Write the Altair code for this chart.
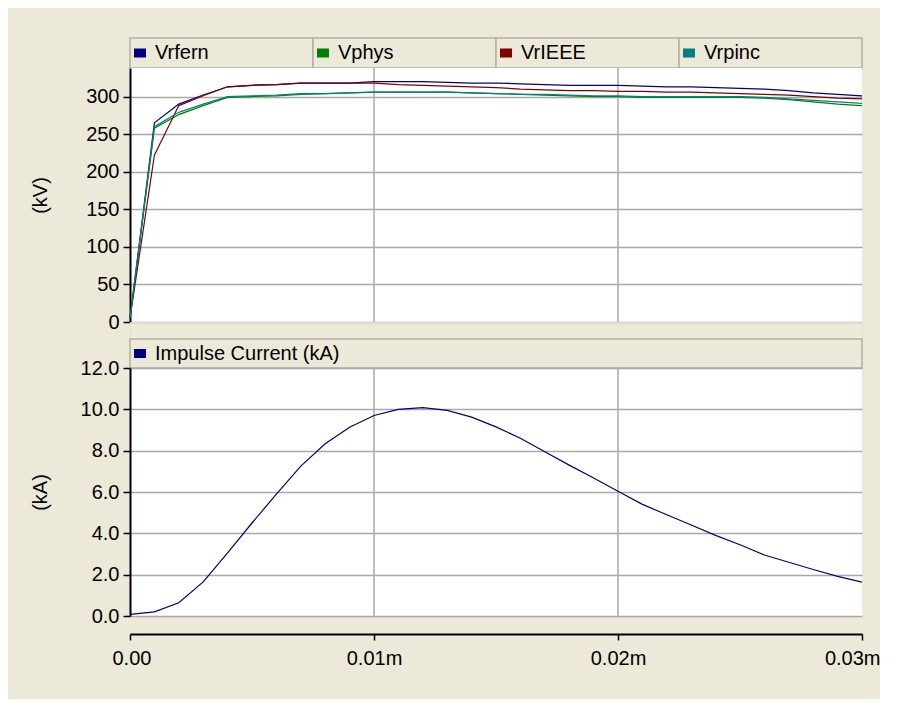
import altair as alt
import pandas as pd

# ---------------- data ----------------
time_ms = [0.000, 0.001, 0.002, 0.003, 0.004, 0.005, 0.006, 0.007, 0.008, 0.009,
           0.010, 0.011, 0.012, 0.013, 0.014, 0.015, 0.016, 0.017, 0.018, 0.019,
           0.020, 0.021, 0.022, 0.023, 0.024, 0.025, 0.026, 0.027, 0.028, 0.029,
           0.030]

vrfern = [5, 265, 290, 302, 313, 315, 316, 318, 318, 318,
          320, 320, 320, 319, 318, 318, 317, 316, 315, 315,
          315, 314, 313, 313, 312, 311, 310, 308, 305, 303, 301]
vphys = [5, 258, 276, 288, 299, 300, 301, 303, 304, 305,
         306, 306, 306, 306, 305, 304, 303, 302, 301, 300,
         300, 299, 299, 299, 299, 299, 298, 296, 293, 290, 288]
vrieee = [5, 222, 288, 301, 313, 315, 316, 318, 318, 318,
          318, 316, 315, 314, 313, 312, 310, 309, 308, 308,
          307, 307, 306, 306, 305, 304, 303, 302, 300, 298, 297]
vrpinc = [5, 260, 279, 290, 300, 301, 302, 304, 304, 305,
          306, 306, 306, 306, 305, 304, 303, 303, 302, 301,
          301, 300, 300, 300, 300, 300, 299, 297, 295, 293, 291]
current_ka = [0.08, 0.2, 0.64, 1.65, 3.05, 4.5, 5.9, 7.25, 8.33, 9.13,
              9.7, 10.0, 10.08, 9.95, 9.62, 9.15, 8.6, 7.95, 7.3, 6.68,
              6.04, 5.4, 4.9, 4.4, 3.9, 3.45, 2.95, 2.6, 2.25, 1.92, 1.64]

series_names = ["Vrfern", "Vphys", "VrIEEE", "Vrpinc"]
series_colors = ["#000080", "#008000", "#800000", "#008080"]
current_names = ["Impulse Current (kA)"]
current_colors = ["#000080"]

kv_ticks = [0, 50, 100, 150, 200, 250, 300]
ka_ticks = [0, 2, 4, 6, 8, 10, 12]
x_ticks = [0.0, 0.01, 0.02, 0.03]
x_grid = [0.01, 0.02]

# ---------------- style ----------------
BEIGE = "#ECE9D8"
GRID = "#A8A8A8"
FONT = "Liberation Sans"
W = 732

volt_df = pd.concat([
    pd.DataFrame({"t": time_ms, "v": vals, "series": name, "k": i})
    for i, (name, vals) in enumerate(zip(series_names, [vrfern, vphys, vrieee, vrpinc]))
])
cur_df = pd.DataFrame({"t": time_ms, "i": current_ka, "series": current_names[0]})
grid_df = pd.DataFrame({"t": x_grid})

xscale = alt.Scale(domain=[0, 0.03], nice=False, zero=False)


def legend_strip(names, colors, height):
    df = pd.DataFrame({"name": names, "color": colors})
    band = alt.Scale(domain=names, paddingInner=0, paddingOuter=0)
    base = alt.Chart(df)
    cells = base.mark_rect(fill=BEIGE, stroke="#B3B0A2", strokeWidth=1.5).encode(
        x=alt.X("name:N", scale=band, axis=None)
    )
    squares = base.mark_point(
        shape="M-1,-0.75L1,-0.75L1,0.75L-1,0.75Z", filled=True, size=144,
        opacity=1, strokeWidth=0, xOffset=10
    ).encode(
        x=alt.X("name:N", scale=band, axis=None, bandPosition=0),
        y=alt.value(height / 2),
        color=alt.Color("color:N", scale=None),
    )
    labels = base.mark_text(
        align="left", baseline="middle", dx=25, font=FONT, fontSize=20, color="black"
    ).encode(
        x=alt.X("name:N", scale=band, axis=None, bandPosition=0),
        y=alt.value(height / 2),
        text="name:N",
    )
    return alt.layer(cells, squares, labels).properties(width=W, height=height)


def y_axis(values, title, fmt):
    return alt.Axis(
        values=values, title=title, format=fmt, grid=True, gridColor=GRID, gridWidth=1.5,
        domainColor="black", domainWidth=2, tickColor="black", tickSize=7, tickWidth=1.5,
        labelFont=FONT, labelFontSize=20, labelColor="black", labelPadding=4,
        labelFlush=False,
        titleFont=FONT, titleFontSize=20, titleFontWeight="normal", titleColor="black",
        titleX=-80,
    )


vgrid = alt.Chart(grid_df).mark_rule(color=GRID, strokeWidth=1.5).encode(
    x=alt.X("t:Q", scale=xscale, axis=None)
)

lines_a = alt.Chart(volt_df).mark_line(strokeWidth=1.2).encode(
    x=alt.X("t:Q", scale=xscale, axis=None),
    y=alt.Y("v:Q", scale=alt.Scale(domain=[0, 338], nice=False),
            axis=y_axis(kv_ticks, "(kV)", "d")),
    color=alt.Color("series:N", scale=alt.Scale(domain=series_names, range=series_colors),
                    legend=None),
    order=alt.Order("k:Q"),
)
plot_a = alt.layer(vgrid, lines_a).properties(
    width=W, height=254, view=alt.ViewBackground(fill="white", stroke=None)
)

x_axis = alt.Axis(
    values=x_ticks, grid=False, offset=18, title=None,
    labelFlush=True, labelFlushOffset=18,
    labelExpr="datum.value == 0 ? '0.00' : format(datum.value, '.2f') + 'm'",
    domainColor="black", domainWidth=2, tickColor="black", tickSize=6, tickWidth=1.5,
    labelFont=FONT, labelFontSize=20, labelColor="black", labelPadding=8,
)

vgrid_b = alt.Chart(grid_df).mark_rule(color=GRID, strokeWidth=1.5).encode(
    x=alt.X("t:Q", scale=xscale, axis=x_axis)
)
line_b = alt.Chart(cur_df).mark_line(strokeWidth=1.2, color=current_colors[0]).encode(
    x=alt.X("t:Q", scale=xscale, axis=x_axis),
    y=alt.Y("i:Q", scale=alt.Scale(domain=[0, 12], nice=False),
            axis=y_axis(ka_ticks, "(kA)", ".1f")),
)
plot_b = alt.layer(vgrid_b, line_b).properties(
    width=W, height=248, view=alt.ViewBackground(fill="white", stroke=None)
)

spacer = alt.Chart(pd.DataFrame({"a": [0]})).mark_rect(opacity=0).encode(
    x=alt.value(0), x2=alt.value(1), y=alt.value(0), y2=alt.value(1)
).properties(width=W, height=17)

chart = alt.vconcat(
    legend_strip(series_names, series_colors, 30),
    plot_a,
    spacer,
    legend_strip(current_names, current_colors, 29),
    plot_b,
    spacing=0,
    bounds="flush",
).properties(
    background=BEIGE,
    padding={"left": 22, "top": 28, "right": 0, "bottom": 31},
).configure_view(stroke=None).configure(font=FONT)

chart.save("out.html", embed_options={"renderer": "svg", "actions": False})
